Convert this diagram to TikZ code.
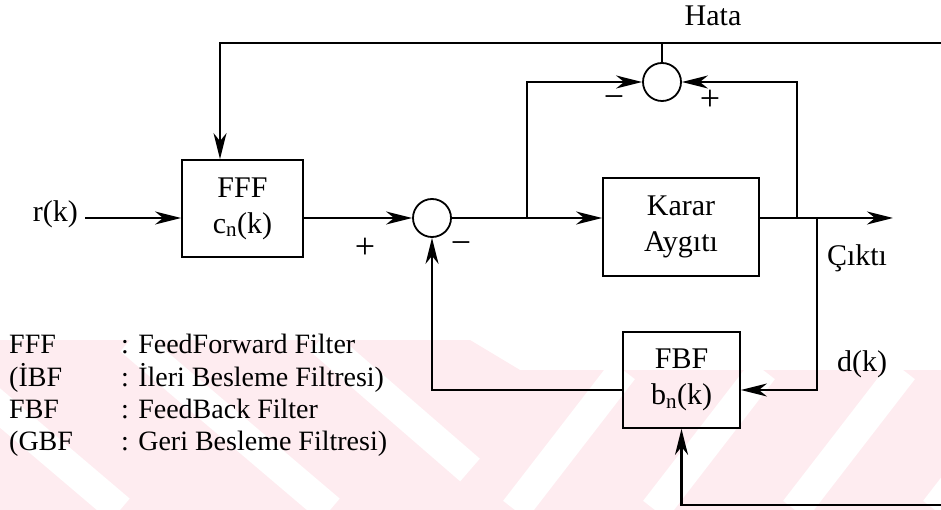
\documentclass[tikz,border=0pt]{standalone}
\usepackage{fontspec}
\setmainfont{Liberation Serif}
\usepackage{tikz}
\usetikzlibrary{arrows.meta, positioning}
\definecolor{wmark}{RGB}{254,236,240}

\tikzset{
  block/.style={draw, line width=1.8pt, rectangle, align=center, inner sep=0pt,
    font=\fontsize{30}{36}\selectfont},
  sumnode/.style={draw, line width=1.8pt, circle, minimum size=38pt, inner sep=0pt},
  lbl/.style={font=\fontsize{30}{36}\selectfont, inner sep=0pt},
  sign/.style={font=\fontsize{36}{40}\selectfont, inner sep=0pt},
  leg/.style={font=\fontsize{28}{32}\selectfont, inner sep=0pt, anchor=base west},
  sig/.style={line width=2.4pt},
  arr/.style={sig, -{Stealth[length=26pt, width=13pt, inset=8pt]}},
  gap/.style={white, line width=30pt}
}

\begin{document}
\begin{tikzpicture}[x=1pt, y=-1pt]
    \useasboundingbox (0,0) rectangle (941,510);
    % watermark
    \begin{scope}
      \clip (0,340) -- (470,340) -- (520,370) -- (941,370) -- (941,510) -- (0,510) -- cycle;
      \fill[wmark] (0,330) rectangle (941,510);
      \draw[gap] (515,510) -- (623,370);
      \draw[gap] (655,510) -- (763,370);
      \draw[gap] (795,510) -- (903,370);
      \draw[gap] (935,510) -- (1043,370);
      \draw[gap] (470,470) -- (320,340);
      \draw[gap] (330,510) -- (130,340);
      \draw[gap] (120,510) -- (-80,340);
    \end{scope}

    % blocks
    \node[block, minimum width=121pt, minimum height=97pt] (fff) at (242.5,208.5) {FFF\\c\textsubscript{n}(k)};
    \node[sumnode] (sum1) at (432,218) {};
    \node[block, minimum width=156pt, minimum height=98pt] (karar) at (681,227) {Karar\\Aygıtı};
    \node[sumnode] (sum2) at (662,82) {};
    \node[block, minimum width=117pt, minimum height=96pt] (fbf) at (681.5,380) {FBF\\b\textsubscript{n}(k)};

    % points on the lines
    \coordinate (rin) at (85,218);
    \coordinate (tl) at (220,43);
    \coordinate (tr) at (941,43);
    \coordinate (b1) at (527,218);
    \coordinate (b2) at (797,218);
    \coordinate (b3) at (817,218);
    \coordinate (out) at (893,218);
    \coordinate (fbin) at (817,390);
    \coordinate (br) at (941,505);

    % labels
    \node[lbl, anchor=east] (rlbl) at (78,214) {r(k)};
    \node[lbl] (hata) at (713,16) {Hata};
    \node[lbl] (cikti) at (857,258) {Çıktı};
    \node[lbl] (dk) at (862,364) {d(k)};
    \node[sign] (p1) at (365,248) {+};
    \node[sign] (m1) at (461,248) {\textminus};
    \node[sign] (m2) at (614,102) {\textminus};
    \node[sign] (p2) at (710,100) {+};

    % connections
    \draw[arr] (rin) -- (fff.west |- rin);
    \draw[arr] (tr) -- (tl) -- (tl |- fff.north);
    \draw[sig] (sum2.north) -- (sum2.north |- tr);
    \draw[arr] (fff.east |- sum1) -- (sum1.west);
    \draw[arr] (sum1.east) -- (karar.west |- sum1);
    \draw[arr] (b1) |- (sum2.west);
    \draw[arr] (karar.east |- sum1) -- (out);
    \draw[arr] (b2) |- (sum2.east);
    \draw[arr] (b3) -- (fbin) -- (fbf.east |- fbin);
    \draw[arr] (fbf.west |- fbin) -| (sum1.south);
    \draw[arr] (br) -- (fbf.south |- br) -- (fbf.south);

    % legend
    \node[leg] (l1a) at (9,353) {FFF};
    \node[leg] (l1b) at (121,353) {: FeedForward Filter};
    \node[leg] (l2a) at (9,386) {(İBF};
    \node[leg] (l2b) at (121,386) {: İleri Besleme Filtresi)};
    \node[leg] (l3a) at (9,418) {FBF};
    \node[leg] (l3b) at (121,418) {: FeedBack Filter};
    \node[leg] (l4a) at (9,450) {(GBF};
    \node[leg] (l4b) at (121,450) {: Geri Besleme Filtresi)};
\end{tikzpicture}
\end{document}
